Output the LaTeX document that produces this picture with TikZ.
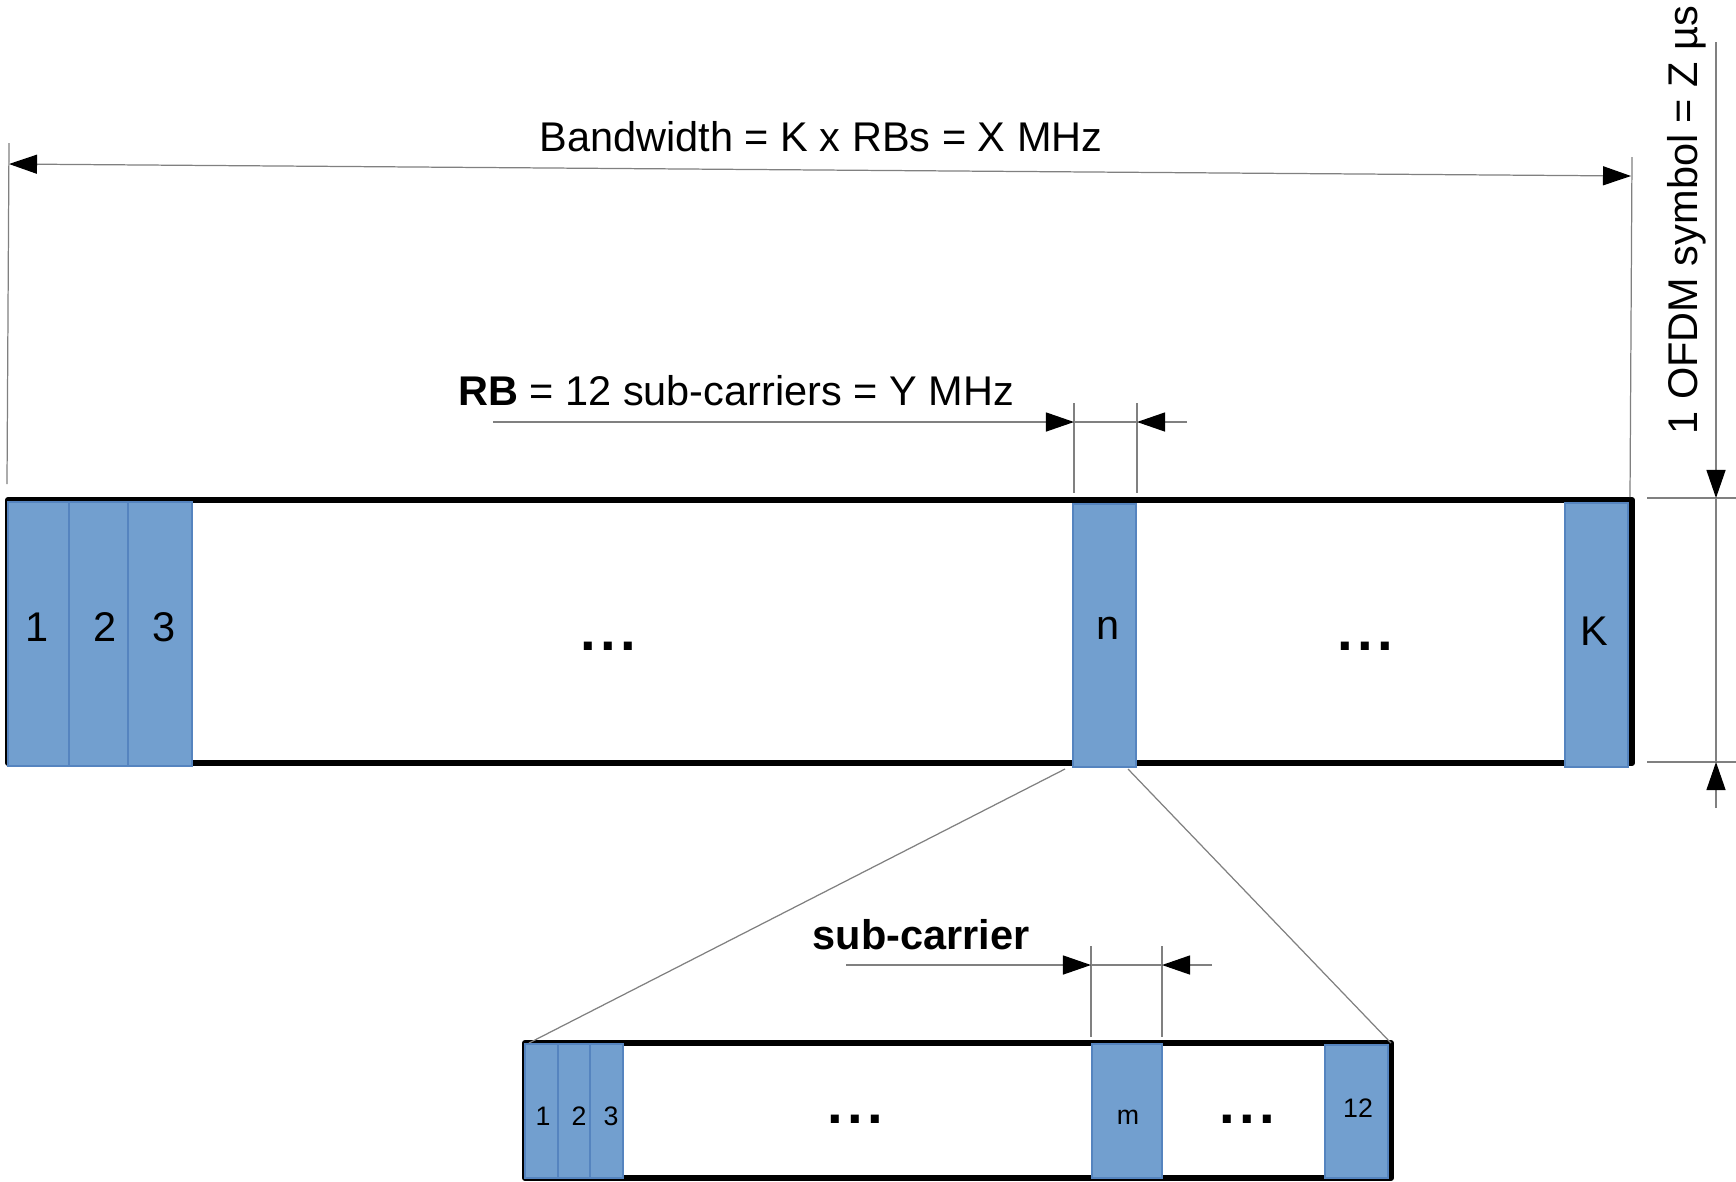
\documentclass[tikz,border=0pt]{standalone}
\usepackage{fontspec}
\setmainfont{Liberation Sans}
\usepackage{xcolor}
\usetikzlibrary{arrows.meta,positioning}
\definecolor{rbfill}{HTML}{729FCF}
\definecolor{rbedge}{HTML}{5584BF}
\definecolor{dimgray}{HTML}{808080}

\newcommand{\rbdots}{.\kern1.2pt.\kern1.2pt.}

\tikzset{
  frame/.style={line width=1.7pt,line join=round},
  block/.style={fill=rbfill,draw=rbedge,line width=0.4pt},
  dimline/.style={draw=dimgray,line width=0.35pt},
  dimarrow/.style={dimline,-{Triangle[length=2.8mm,width=1.9mm,color=black]}},
  dimboth/.style={dimline,{Triangle[length=2.8mm,width=1.9mm,color=black]}-{Triangle[length=2.8mm,width=1.9mm,color=black]}},
  biglabel/.style={font=\fontsize{11.8}{14}\selectfont,inner sep=0pt},
  smalllabel/.style={font=\fontsize{7.6}{9}\selectfont,inner sep=0pt},
  dotlabel/.style={font=\fontsize{16}{20}\selectfont\bfseries,inner sep=0pt},
}

\begin{document}
\begin{tikzpicture}[x=0.01cm,y=-0.01cm]
\useasboundingbox (0,0) rectangle (1736,1181);

\draw[frame] (8,500) rectangle (1632,763);
\draw[block] (8,502) rectangle (69,766);
\draw[block] (69,502) rectangle (128,766);
\draw[block] (128,502) rectangle (192,766);
\draw[block] (1073,504) rectangle (1136,767);
\draw[block] (1565,503) rectangle (1628,767);
\node[biglabel] (rb1) at (37,627) {1};
\node[biglabel] (rb2) at (105,627) {2};
\node[biglabel] (rb3) at (164,627) {3};
\node[biglabel] (rbn) at (1108,628) {n};
\node[biglabel] (rbK) at (1594,631) {K};
\node[dotlabel] (dotsA) at (608,646) {\rbdots};
\node[dotlabel] (dotsB) at (1365,646) {\rbdots};

\draw[frame] (525,1043) rectangle (1391,1178);
\draw[block] (525,1044) rectangle (558,1178);
\draw[block] (558,1044) rectangle (590,1178);
\draw[block] (590,1044) rectangle (623,1178);
\draw[block] (1092,1044) rectangle (1162,1178);
\draw[block] (1325,1045) rectangle (1388,1178);
\node[smalllabel] (sc1) at (543,1116) {1};
\node[smalllabel] (sc2) at (579,1116) {2};
\node[smalllabel] (sc3) at (611,1116) {3};
\node[smalllabel] (scm) at (1128,1117) {m};
\node[smalllabel] (sc12) at (1358,1108) {12};
\node[dotlabel] (dotsC) at (855,1119) {\rbdots};
\node[dotlabel] (dotsD) at (1247,1119) {\rbdots};

\coordinate (zoomAL) at (1065,769);
\coordinate (zoomAR) at (1128,769);
\coordinate (zoomBL) at (529,1043);
\coordinate (zoomBR) at (1391,1043);
\draw[dimline] (zoomAL) -- (zoomBL);
\draw[dimline] (zoomAR) -- (zoomBR);

\draw[dimline] (9,143) -- (7,484);
\draw[dimline] (1632,157) -- (1630,497);
\coordinate (bwL) at (9,164);
\coordinate (bwR) at (1631,176);
\draw[dimboth] (bwL) -- (bwR);
\node[biglabel] (bw) at (821,137) {Bandwidth = K x RBs = X MHz};

\node[biglabel] (rb) at (736,391) {\textbf{RB} = 12 sub-carriers = Y MHz};
\draw[dimline] (1074,403) -- (1074,493);
\draw[dimline] (1137,403) -- (1137,493);
\coordinate (rbA) at (493,422);
\coordinate (rbL) at (1074,422);
\coordinate (rbR) at (1137,422);
\coordinate (rbB) at (1187,422);
\draw[dimarrow] (rbA) -- (rbL);
\draw[dimline] (rbL) -- (rbR);
\draw[dimarrow] (rbB) -- (rbR);

\node[biglabel] (sub) at (921,935) {\textbf{sub-carrier}};
\draw[dimline] (1091,946) -- (1091,1037);
\draw[dimline] (1162,946) -- (1162,1037);
\coordinate (scA) at (846,965);
\coordinate (scL) at (1091,965);
\coordinate (scR) at (1162,965);
\coordinate (scB) at (1212,965);
\draw[dimarrow] (scA) -- (scL);
\draw[dimline] (scL) -- (scR);
\draw[dimarrow] (scB) -- (scR);

\node[biglabel,rotate=90] (ofdm) at (1687,220) {1 OFDM symbol = Z µs};
\draw[dimline] (1647,498) -- (1736,498);
\draw[dimline] (1647,762) -- (1736,762);
\coordinate (tA) at (1716,42);
\coordinate (tT) at (1716,498);
\coordinate (tB) at (1716,762);
\coordinate (tC) at (1716,808);
\draw[dimarrow] (tA) -- (tT);
\draw[dimline] (tT) -- (tB);
\draw[dimarrow] (tC) -- (tB);
\end{tikzpicture}
\end{document}
